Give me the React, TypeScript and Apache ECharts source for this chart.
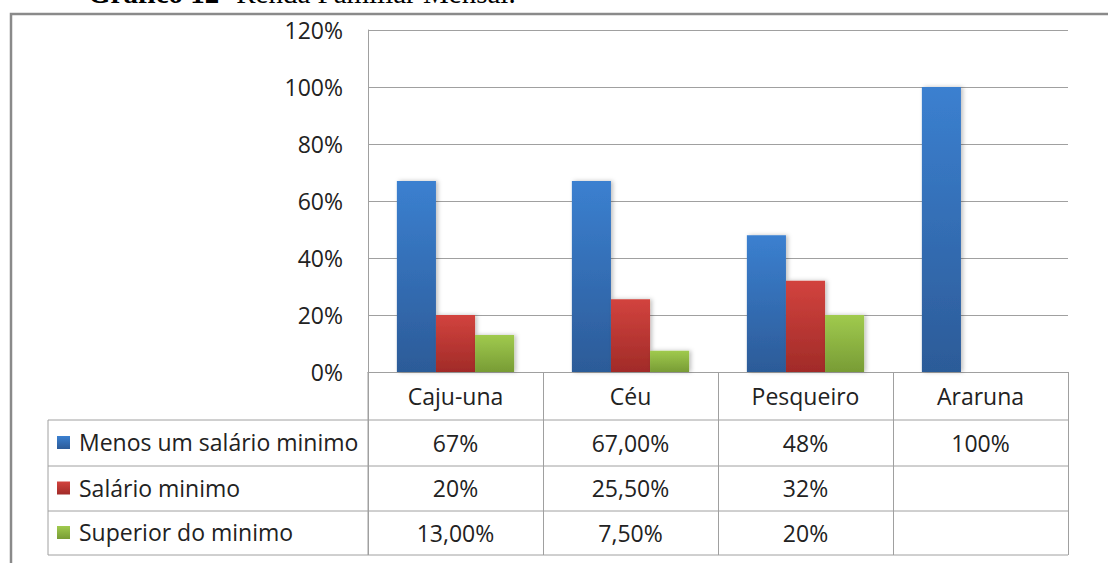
import React, { useEffect, useRef } from "react";
import * as echarts from "echarts";

const categories = ["Caju-una", "Céu", "Pesqueiro", "Araruna"];
const seriesNames = ["Menos um salário minimo", "Salário minimo", "Superior do minimo"];
const menosValues = [67, 67, 48, 100];
const salarioValues = [20, 25.5, 32, null];
const superiorValues = [13, 7.5, 20, null];
const menosLabels = ["67%", "67,00%", "48%", "100%"];
const salarioLabels = ["20%", "25,50%", "32%", ""];
const superiorLabels = ["13,00%", "7,50%", "20%", ""];
const yTicks = [0, 20, 40, 60, 80, 100, 120];

const FONT = "Open Sans";
const FS = 23;
const TXT = "#222222";
const LINE = "#a0a0a0";

const colors = [
  ["#3b80d0", "#2c5b98"],
  ["#d2433e", "#a12b28"],
  ["#a0ca4e", "#789c35"],
];

function grad(c: string[]) {
  return new echarts.graphic.LinearGradient(0, 0, 0, 1, [
    { offset: 0, color: c[0] },
    { offset: 1, color: c[1] },
  ]);
}

export default function App() {
  const ref = useRef<HTMLDivElement>(null);
  useEffect(() => {
    if (!ref.current) return;
    const chart = echarts.init(ref.current, undefined, { renderer: "svg" });
    const gl = 368, gt = 30, gw = 700, gh = 342;
    const colW = gw / categories.length;
    const rowTops = [420, 466, 511, 555];
    const rowLabels = [menosLabels, salarioLabels, superiorLabels];
    const graphics: any[] = [];
    // outer frame
    graphics.push({
      type: "rect",
      shape: { x: 11, y: 14, width: 1120, height: 600 },
      style: { fill: "none", stroke: "#8a8a8a", lineWidth: 2.5 },
      silent: true,
    });
    // title (cut off at top, as in the source)
    graphics.push({
      type: "text",
      x: 88,
      y: 7,
      style: {
        text: "{b|Gráfico 12-} Renda Familiar Mensal.",
        fontFamily: "Liberation Serif",
        fontSize: 29,
        fill: "#000",
        verticalAlign: "bottom",
        rich: { b: { fontWeight: "bold", fontFamily: "Liberation Serif", fontSize: 29, fill: "#000" } },
      },
      silent: true,
    });
    // table horizontal lines
    rowTops.forEach((y) => {
      graphics.push({
        type: "line",
        shape: { x1: 48, y1: y, x2: gl + gw, y2: y },
        style: { stroke: LINE, lineWidth: 1 },
        silent: true,
      });
    });
    graphics.push({
      type: "line",
      shape: { x1: 48, y1: rowTops[0], x2: 48, y2: rowTops[3] },
      style: { stroke: LINE, lineWidth: 1 },
      silent: true,
    });
    graphics.push({
      type: "line",
      shape: { x1: gl, y1: gt + gh, x2: gl, y2: rowTops[3] },
      style: { stroke: LINE, lineWidth: 1 },
      silent: true,
    });
    // row labels with legend keys
    seriesNames.forEach((name, r) => {
      const cy = (rowTops[r] + rowTops[r + 1]) / 2;
      graphics.push({
        type: "rect",
        shape: { x: 57, y: cy - 7, width: 13, height: 13 },
        style: { fill: grad(colors[r]) },
        silent: true,
      });
      graphics.push({
        type: "text",
        x: 79,
        y: cy - 1,
        style: { text: name, fontFamily: FONT, fontSize: FS, fill: TXT, verticalAlign: "middle" },
        silent: true,
      });
      rowLabels[r].forEach((t, c) => {
        if (!t) return;
        graphics.push({
          type: "text",
          x: gl + colW * (c + 0.5),
          y: cy - 0.5,
          style: { text: t, fontFamily: FONT, fontSize: FS, fill: TXT, align: "center", verticalAlign: "middle" },
          silent: true,
        });
      });
    });

    const mk = (name: string, data: any[], i: number) => ({
      name,
      type: "bar",
      data,
      barGap: "0%",
      barCategoryGap: "33%",
      itemStyle: {
        color: grad(colors[i]),
        shadowBlur: 4,
        shadowColor: "rgba(0,0,0,0.25)",
        shadowOffsetX: 2,
        shadowOffsetY: 0,
      },
    });

    chart.setOption({
      animation: false,
      backgroundColor: "#fff",
      grid: { left: gl, top: gt, width: gw, height: gh, containLabel: false },
      xAxis: {
        type: "category",
        data: categories,
        axisLine: { show: true, lineStyle: { color: LINE, width: 1 } },
        axisTick: { show: true, length: rowTops[3] - (gt + gh), lineStyle: { color: LINE, width: 1 } },
        axisLabel: {
          margin: 10,
          fontFamily: FONT,
          fontSize: FS,
          color: TXT,
          lineHeight: 28,
        },
      },
      yAxis: {
        type: "value",
        min: yTicks[0],
        max: yTicks[yTicks.length - 1],
        interval: 20,
        axisLine: { show: true, lineStyle: { color: LINE, width: 1 } },
        axisTick: { show: false },
        splitLine: { show: true, lineStyle: { color: LINE, width: 1 } },
        axisLabel: {
          margin: 25,
          fontFamily: FONT,
          fontSize: FS,
          color: TXT,
          formatter: "{value}%",
        },
      },
      series: [
        mk(seriesNames[0], menosValues, 0),
        mk(seriesNames[1], salarioValues, 1),
        mk(seriesNames[2], superiorValues, 2),
      ],
      graphic: graphics,
    });
    return () => chart.dispose();
  }, []);
  return (
    <div
      ref={ref}
      style={{ position: "fixed", left: 0, top: 0, width: 1108, height: 563, background: "#fff" }}
    />
  );
}
